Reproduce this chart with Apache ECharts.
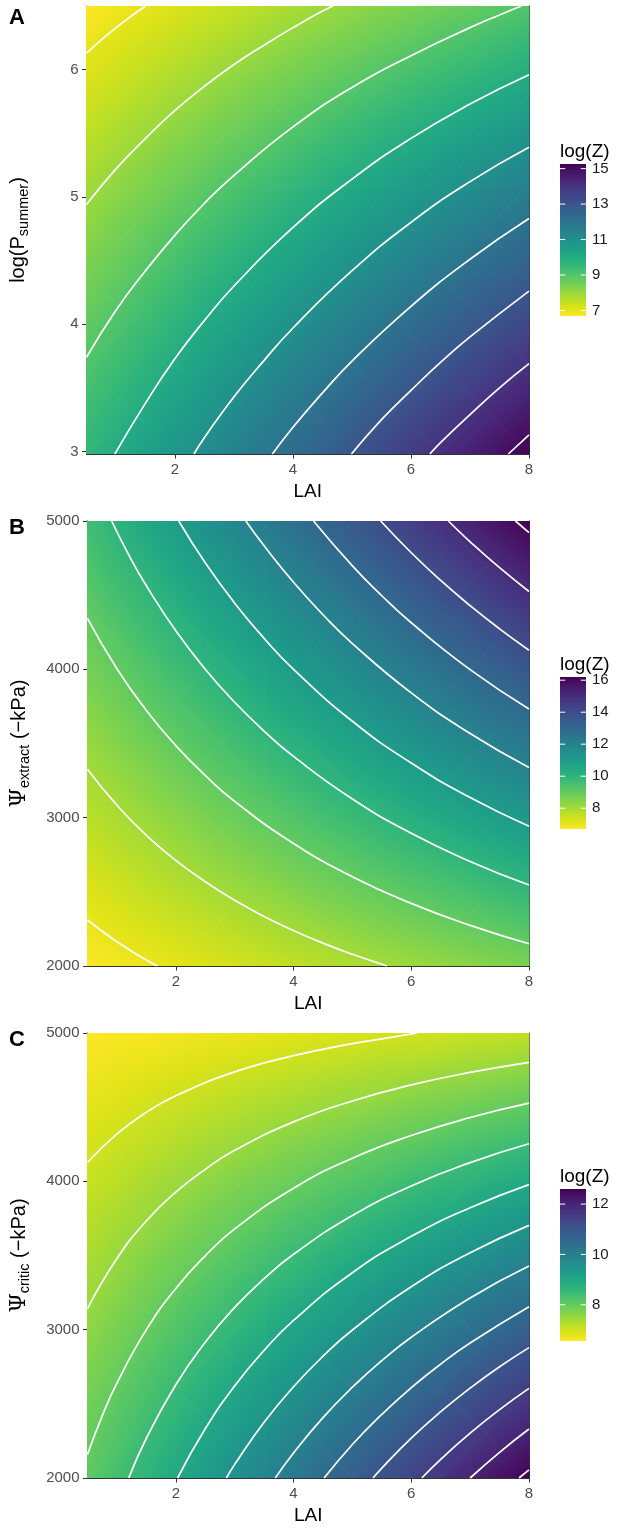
<!DOCTYPE html>
<html>
<head>
<meta charset="utf-8">
<script src="https://cdn.jsdelivr.net/npm/echarts@6/dist/echarts.min.js"></script>
<style>
html,body{margin:0;padding:0;background:#fff;}
#chart{width:619px;height:1530px;}
</style>
</head>
<body>
<div id="chart"></div>
<script>
// LAI grid nodes and ticks, shared by the three panels
var laiNodes = [0.5, 2, 3.5, 5, 6.5, 8];
var laiTicks = [2, 4, 6, 8];

// panel A : log(P_summer) on y
var pNodes = [2.98, 3.684, 4.388, 5.092, 5.796, 6.5];
var pTicks = [3, 4, 5, 6];
// log(Z) read at the grid nodes, rows bottom -> top
var zA = [
	[9.64, 10.76, 11.89, 13.01, 14.14, 15.26],
	[9.05, 10.04, 11.04, 12.03, 13.02, 14.02],
	[8.46, 9.32, 10.19, 11.05, 11.91, 12.77],
	[7.87, 8.60, 9.33, 10.07, 10.80, 11.53],
	[7.28, 7.88, 8.48, 9.08, 9.68, 10.28],
	[6.69, 7.16, 7.63, 8.10, 8.57, 9.04]
];
var rangeA = [6.69, 15.26];
var legTicksA = [7, 9, 11, 13, 15];
// white contour lines (levels 7..15)
var contoursA = [
	[[0.5,6.13],[1,6.33],[1.5,6.5]],
	[[0.5,4.94],[1,5.22],[1.5,5.46],[2,5.68],[2.5,5.87],[3,6.04],[3.5,6.19],[4,6.33],[4.5,6.46],[4.68,6.5]],
	[[0.5,3.74],[1,4.11],[1.5,4.42],[2,4.70],[2.5,4.95],[3,5.17],[4,5.55],[5,5.86],[6,6.11],[7,6.33],[7.5,6.43],[7.87,6.5]],
	[[0.98,2.98],[1.5,3.38],[2,3.73],[2.5,4.03],[3,4.30],[4,4.76],[5,5.14],[6,5.46],[7,5.73],[8,5.96]],
	[[2.32,2.98],[2.5,3.11],[3,3.43],[3.5,3.71],[4,3.97],[5,4.42],[6,4.80],[7,5.12],[8,5.39]],
	[[3.65,2.98],[4,3.19],[4.5,3.46],[5,3.71],[6,4.14],[7,4.51],[8,4.83]],
	[[4.99,2.98],[5.5,3.25],[6,3.48],[6.5,3.70],[7,3.90],[8,4.26]],
	[[6.32,2.98],[6.5,3.07],[7,3.29],[7.5,3.50],[8,3.69]],
	[[7.65,2.98],[8,3.13]]
];

// panel B : Psi_extract on y
var psiNodes = [2000, 2600, 3200, 3800, 4400, 5000];
var psiTicks = [2000, 3000, 4000, 5000];
var zB = [
	[6.70, 7.08, 7.47, 7.85, 8.24, 8.62],
	[7.29, 7.86, 8.43, 9.00, 9.57, 10.14],
	[7.88, 8.63, 9.39, 10.14, 10.90, 11.65],
	[8.47, 9.41, 10.35, 11.29, 12.23, 13.17],
	[9.06, 10.18, 11.31, 12.43, 13.56, 14.68],
	[9.65, 10.96, 12.27, 13.58, 14.89, 16.20]
];
var rangeB = [6.70, 16.20];
var legTicksB = [8, 10, 12, 14, 16];
var contoursB = [
	[[0.5,2310],[1,2163],[1.5,2040],[1.69,2000]],
	[[0.5,3327],[1,3084],[1.5,2881],[2,2712],[2.5,2568],[3,2443],[3.5,2334],[4,2239],[4.5,2154],[5,2079],[5.59,2000]],
	[[0.5,4344],[1,4004],[1.5,3723],[2,3486],[2.5,3285],[3,3110],[4,2826],[5,2602],[6,2422],[7,2274],[8,2150]],
	[[0.91,5000],[1.2,4772],[1.5,4563],[2,4260],[2.5,4001],[3,3778],[3.5,3584],[4,3413],[5,3126],[6,2895],[7,2705],[8,2546]],
	[[2.05,5000],[2.5,4718],[3,4446],[3.5,4209],[4,4000],[5,3650],[6,3368],[7,3136],[8,2942]],
	[[3.19,5000],[3.5,4833],[4,4587],[4.5,4368],[5,4174],[6,3841],[7,3567],[8,3338]],
	[[4.34,5000],[5,4697],[5.5,4496],[6,4314],[7,3998],[8,3733]],
	[[5.48,5000],[6,4786],[6.5,4599],[7,4429],[7.5,4273],[8,4129]],
	[[6.63,5000],[7,4860],[7.5,4685],[8,4525]],
	[[7.77,5000],[8,4921]]
];

// panel C : Psi_critic on y
var zC = [
	[8.08, 8.98, 9.89, 10.79, 11.70, 12.60],
	[7.78, 8.52, 9.27, 10.02, 10.76, 11.51],
	[7.47, 8.06, 8.65, 9.24, 9.83, 10.42],
	[7.17, 7.60, 8.03, 8.46, 8.89, 9.32],
	[6.86, 7.14, 7.41, 7.68, 7.96, 8.23],
	[6.56, 6.67, 6.79, 6.91, 7.02, 7.14]
];
var rangeC = [6.56, 12.60];
var legTicksC = [8, 10, 12];
var contoursC = [
	[[0.5,4127],[1,4320],[1.5,4465],[2,4577],[3,4738],[4,4847],[5,4928],[5.5,4960],[6.1,5000]],
	[[0.5,3142],[1,3480],[1.5,3733],[2,3927],[2.5,4081],[3,4209],[4,4401],[5,4542],[6,4650],[7,4734],[8,4802]],
	[[0.5,2158],[0.75,2419],[1,2640],[1.5,3000],[2,3278],[2.5,3498],[3,3679],[4,3954],[5,4156],[6,4309],[7,4430],[8,4527]],
	[[1.2,2000],[1.5,2268],[2,2629],[2.5,2915],[3,3150],[3.5,3344],[4,3508],[5,3770],[6,3969],[7,4126],[8,4253]],
	[[2.03,2000],[2.5,2332],[3,2621],[3.5,2860],[4,3062],[5,3384],[6,3629],[7,3822],[8,3978]],
	[[2.86,2000],[3,2092],[3.5,2376],[4,2615],[4.5,2821],[5,2998],[6,3289],[7,3518],[8,3703]],
	[[3.69,2000],[4,2169],[4.5,2407],[5,2612],[5.5,2791],[6,2949],[7,3214],[8,3429]],
	[[4.52,2000],[5,2226],[5.5,2429],[6,2609],[6.5,2768],[7,2910],[8,3154]],
	[[5.35,2000],[5.5,2067],[6,2269],[6.5,2447],[7,2606],[7.5,2750],[8,2879]],
	[[6.18,2000],[6.5,2126],[7,2302],[7.5,2461],[8,2604]],
	[[7.0,2000],[7.5,2173],[8,2330]],
	[[7.83,2000],[8,2055]]
];

// viridis colour map
var viridis = ['#440154','#471365','#482475','#463480','#414487','#3B528B','#355F8D','#2F6C8E','#2A788E','#25848E',
	'#21918C','#1E9C89','#22A884','#2FB47C','#44BF70','#5EC962','#7AD151','#9BD93C','#BDDF26','#DFE318','#FDE725'];
function hexRgb(h){ return [parseInt(h.substr(1,2),16), parseInt(h.substr(3,2),16), parseInt(h.substr(5,2),16)]; }
var viridisRgb = viridis.map(hexRgb);
function viridisAt(t){
	t = Math.max(0, Math.min(1, t));
	var f = t * (viridisRgb.length - 1), i = Math.min(Math.floor(f), viridisRgb.length - 2), w = f - i;
	var a = viridisRgb[i], b = viridisRgb[i + 1];
	return 'rgb(' + Math.round(a[0] + (b[0]-a[0])*w) + ',' + Math.round(a[1] + (b[1]-a[1])*w) + ',' + Math.round(a[2] + (b[2]-a[2])*w) + ')';
}
// low values yellow, high values purple
function zColor(z, range){ return viridisAt(1 - (z - range[0]) / (range[1] - range[0])); }

function buildCells(xs, ys, z){
	var cells = [];
	for (var j = 0; j < ys.length - 1; j++) {
		for (var i = 0; i < xs.length - 1; i++) {
			cells.push([xs[i], xs[i+1], ys[j], ys[j+1], z[j][i], z[j][i+1], z[j+1][i], z[j+1][i+1]]);
		}
	}
	return cells;
}

// fill of a triangle: gradient along the direction in which log(Z) changes
function triFill(p, z, range){
	var e1x = p[1][0]-p[0][0], e1y = p[1][1]-p[0][1];
	var e2x = p[2][0]-p[0][0], e2y = p[2][1]-p[0][1];
	var d1 = z[1]-z[0], d2 = z[2]-z[0];
	var det = e1x*e2y - e1y*e2x;
	var zmin = Math.min(z[0], z[1], z[2]), zmax = Math.max(z[0], z[1], z[2]);
	if (Math.abs(det) < 1e-9 || zmax - zmin < 1e-6) return zColor((zmin + zmax) / 2, range);
	var gx = (d1*e2y - d2*e1y) / det, gy = (e1x*d2 - e2x*d1) / det;
	var g2 = gx*gx + gy*gy;
	var sx = p[0][0] + gx*(zmin - z[0])/g2, sy = p[0][1] + gy*(zmin - z[0])/g2;
	var ex = p[0][0] + gx*(zmax - z[0])/g2, ey = p[0][1] + gy*(zmax - z[0])/g2;
	var stops = [];
	for (var k = 0; k <= 6; k++) stops.push({offset: k/6, color: zColor(zmin + (zmax - zmin)*k/6, range)});
	return new echarts.graphic.LinearGradient(sx, sy, ex, ey, stops, true);
}
function tri(p, z, range){
	var f = triFill(p, z, range);
	return {type: 'polygon', shape: {points: p}, style: {fill: f, stroke: f, lineWidth: 1}};
}
// each cell is cut into four triangles around its centre
function renderCell(range){
	return function(params, api){
		var x0 = api.value(0), x1 = api.value(1), y0 = api.value(2), y1 = api.value(3);
		var p00 = api.coord([x0, y0]), p10 = api.coord([x1, y0]), p01 = api.coord([x0, y1]), p11 = api.coord([x1, y1]);
		var pc = api.coord([(x0 + x1) / 2, (y0 + y1) / 2]);
		var z00 = api.value(4), z10 = api.value(5), z01 = api.value(6), z11 = api.value(7);
		var zc = (z00 + z10 + z01 + z11) / 4;
		return {type: 'group', children: [
			tri([p00, p10, pc], [z00, z10, zc], range),
			tri([p10, p11, pc], [z10, z11, zc], range),
			tri([p11, p01, pc], [z11, z01, zc], range),
			tri([p01, p00, pc], [z01, z00, zc], range)
		]};
	};
}
function renderBar(range){
	return function(params, api){
		var a = api.coord([0, range[1]]), b = api.coord([1, range[0]]);
		var stops = [];
		for (var k = 0; k <= 20; k++) stops.push({offset: k/20, color: zColor(range[1] - (range[1]-range[0])*k/20, range)});
		return {type: 'rect', shape: {x: a[0], y: a[1], width: b[0]-a[0], height: b[1]-a[1]},
			style: {fill: new echarts.graphic.LinearGradient(0, 0, 0, 1, stops)}};
	};
}
function renderLegTick(params, api){
	var l = api.coord([0, api.value(1)]), r = api.coord([1, api.value(1)]);
	var w = (r[0] - l[0]) / 5;
	return {type: 'group', children: [
		{type: 'line', shape: {x1: l[0], y1: l[1], x2: l[0] + w, y2: l[1]}, style: {stroke: '#fff', lineWidth: 1}},
		{type: 'line', shape: {x1: r[0] - w, y1: r[1], x2: r[0], y2: r[1]}, style: {stroke: '#fff', lineWidth: 1}}
	]};
}

var panels = [
	{top: 6, height: 448, ys: pNodes, z: zA, range: rangeA, yMin: 2.98, yMax: 6.5, yTicks: pTicks,
	 contours: contoursA, legTicks: legTicksA, legTop: 164, letter: 'A', yName: '{m|log(P}{s|summer}{m|)}'},
	{top: 521, height: 445, ys: psiNodes, z: zB, range: rangeB, yMin: 2000, yMax: 5000, yTicks: psiTicks,
	 contours: contoursB, legTicks: legTicksB, legTop: 677, letter: 'B', yName: '{g|Ψ}{s|extract}{m| (−kPa)}'},
	{top: 1033, height: 445, ys: psiNodes, z: zC, range: rangeC, yMin: 2000, yMax: 5000, yTicks: psiTicks,
	 contours: contoursC, legTicks: legTicksC, legTop: 1189, letter: 'C', yName: '{g|Ψ}{s|critic}{m| (−kPa)}'}
];

var font = 'Liberation Sans';
var frame = {show: true, lineStyle: {color: '#333333', width: 1}};
var nameRich = {
	m: {fontSize: 20, fontFamily: font, color: '#000'},
	s: {fontSize: 14.5, fontFamily: font, color: '#000', padding: [12, 0, 0, 0]},
	g: {fontSize: 22, fontFamily: 'DejaVu Serif', color: '#000'}
};
function plainNum(v){ return String(v); }

var option = {animation: false, backgroundColor: '#fff', grid: [], xAxis: [], yAxis: [], series: [], graphic: []};

panels.forEach(function(pn, k){
	var g = option.grid.length;
	option.grid.push({left: 86, top: pn.top, width: 443, height: pn.height});
	option.grid.push({left: 560, top: pn.legTop, width: 26, height: 152});
	var xi = option.xAxis.length, yi = option.yAxis.length;
	// plot axes (bottom/left) + frame axes (top/right)
	option.xAxis.push({gridIndex: g, type: 'value', min: 0.5, max: 8, name: 'LAI', nameLocation: 'middle', nameGap: 28,
		nameTextStyle: {fontSize: 19, fontFamily: font, color: '#000'},
		axisLine: {show: true, onZero: false, lineStyle: {color: '#333333', width: 1}},
		axisTick: {show: true, length: 4.5, customValues: laiTicks, lineStyle: {color: '#333333'}},
		axisLabel: {customValues: laiTicks, margin: 8, fontSize: 15, fontFamily: font, color: '#4D4D4D', formatter: plainNum},
		splitLine: {show: false}});
	option.xAxis.push({gridIndex: g, type: 'value', position: 'top', min: 0.5, max: 8,
		axisLine: frame, axisTick: {show: false}, axisLabel: {show: false}, splitLine: {show: false}});
	option.yAxis.push({gridIndex: g, type: 'value', min: pn.yMin, max: pn.yMax, name: pn.yName,
		nameLocation: 'middle', nameRotate: 90, nameGap: 55,
		nameTextStyle: {fontSize: 20, fontFamily: font, color: '#000', rich: nameRich},
		axisLine: {show: true, onZero: false, lineStyle: {color: '#333333', width: 1}},
		axisTick: {show: true, length: 4.5, customValues: pn.yTicks, lineStyle: {color: '#333333'}},
		axisLabel: {customValues: pn.yTicks, margin: 8, fontSize: 15, fontFamily: font, color: '#4D4D4D', formatter: plainNum},
		splitLine: {show: false}});
	option.yAxis.push({gridIndex: g, type: 'value', position: 'right', min: pn.yMin, max: pn.yMax,
		axisLine: frame, axisTick: {show: false}, axisLabel: {show: false}, splitLine: {show: false}});
	// legend bar axes
	option.xAxis.push({gridIndex: g + 1, type: 'value', min: 0, max: 1, show: false});
	option.yAxis.push({gridIndex: g + 1, type: 'value', position: 'right', min: pn.range[0], max: pn.range[1],
		axisLine: {show: false}, axisTick: {show: false}, splitLine: {show: false},
		axisLabel: {customValues: pn.legTicks, margin: 6, fontSize: 15, fontFamily: font, color: '#1A1A1A', formatter: plainNum}});

	option.series.push({type: 'custom', xAxisIndex: xi, yAxisIndex: yi, renderItem: renderCell(pn.range),
		data: buildCells(laiNodes, pn.ys, pn.z), encode: {x: [0, 1], y: [2, 3]}, clip: true, silent: true, z: 1});
	pn.contours.forEach(function(c){
		option.series.push({type: 'line', xAxisIndex: xi, yAxisIndex: yi, data: c, smooth: 0.5, symbol: 'none',
			clip: true, silent: true, z: 3, lineStyle: {color: '#ffffff', width: 1.7}});
	});
	option.series.push({type: 'custom', xAxisIndex: xi + 2, yAxisIndex: yi + 2, renderItem: renderBar(pn.range),
		data: [[0, pn.range[0], 1, pn.range[1]]], encode: {x: [0, 2], y: [1, 3]}, silent: true});
	option.series.push({type: 'custom', xAxisIndex: xi + 2, yAxisIndex: yi + 2, renderItem: renderLegTick,
		data: pn.legTicks.map(function(t){ return [0, t]; }), encode: {x: 0, y: 1}, silent: true, z: 3});

	option.graphic.push({type: 'text', left: 9, top: pn.top + (k === 0 ? 1 : -4),
		style: {text: pn.letter, font: 'bold 22px "Liberation Sans"', fill: '#000'}});
	option.graphic.push({type: 'text', left: 560, top: pn.legTop - 22,
		style: {text: 'log(Z)', font: '19px "Liberation Sans"', fill: '#000'}});
});

var chart = echarts.init(document.getElementById('chart'), null, {renderer: 'canvas', devicePixelRatio: 1});
chart.setOption(option);
</script>
</body>
</html>
